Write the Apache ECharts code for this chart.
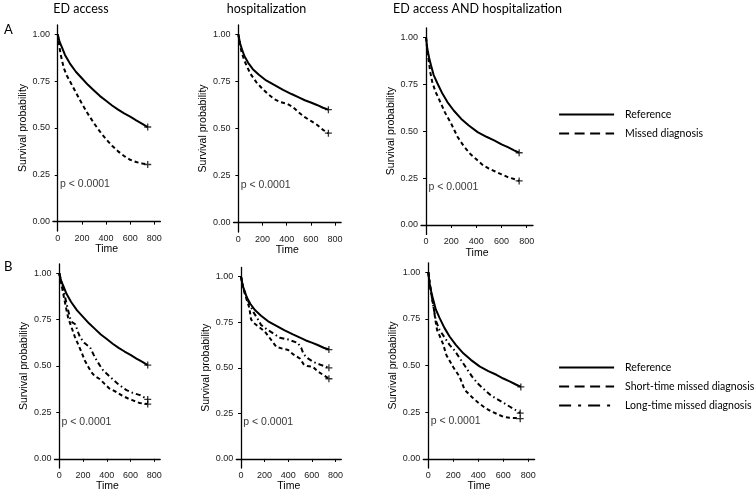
<!DOCTYPE html>
<html>
<head>
<meta charset="utf-8">
<script src="https://cdn.jsdelivr.net/npm/echarts@6/dist/echarts.min.js"></script>
<style>
  html, body { margin: 0; padding: 0; background: #fff; }
  #chart { width: 756px; height: 493px; }
</style>
</head>
<body>
<div id="chart"></div>
<script>
// survival curves, [time (days), survival probability]
const edRef = [[0,1],[15,0.96],[35,0.93],[60,0.89],[100,0.845],[150,0.80],[200,0.765],[250,0.73],[300,0.70],[350,0.67],[400,0.645],[450,0.62],[500,0.598],[550,0.578],[600,0.56],[650,0.54],[700,0.522],[745,0.505]]
const edMissed = [[0,1],[10,0.95],[25,0.89],[50,0.82],[75,0.78],[100,0.75],[150,0.69],[200,0.63],[250,0.575],[300,0.525],[350,0.48],[400,0.44],[450,0.405],[500,0.375],[550,0.35],[600,0.33],[650,0.318],[700,0.31],[745,0.305]]
const edShort = [[0,1],[15,0.95],[35,0.885],[55,0.82],[75,0.76],[105,0.705],[130,0.66],[160,0.615],[190,0.57],[215,0.53],[245,0.495],[270,0.467],[300,0.445],[340,0.43],[380,0.405],[420,0.38],[480,0.36],[530,0.34],[580,0.325],[620,0.315],[680,0.30],[745,0.295]]
const edLong = [[0,1],[20,0.95],[35,0.91],[60,0.84],[90,0.76],[110,0.735],[135,0.725],[160,0.68],[175,0.655],[210,0.625],[260,0.60],[290,0.56],[315,0.53],[345,0.50],[370,0.476],[430,0.44],[500,0.40],[566,0.37],[620,0.355],[680,0.343],[745,0.32]]

const hospRef = [[0,1],[15,0.95],[30,0.92],[50,0.885],[80,0.85],[120,0.815],[170,0.785],[230,0.755],[300,0.73],[370,0.705],[440,0.683],[500,0.665],[550,0.65],[600,0.638],[650,0.625],[700,0.61],[745,0.60]]
const hospMissed = [[0,1],[25,0.91],[50,0.86],[100,0.79],[150,0.745],[200,0.71],[250,0.68],[300,0.655],[350,0.64],[400,0.632],[450,0.615],[500,0.585],[550,0.56],[600,0.54],[650,0.52],[700,0.493],[745,0.475]]
const hospShort = [[0,1],[15,0.95],[30,0.91],[50,0.87],[70,0.83],[85,0.765],[110,0.745],[150,0.725],[200,0.70],[230,0.675],[270,0.64],[300,0.615],[350,0.605],[400,0.598],[440,0.575],[500,0.55],[530,0.52],[560,0.51],[610,0.505],[650,0.48],[700,0.46],[745,0.44]]
const hospLong = [[0,1],[15,0.95],[30,0.92],[50,0.88],[80,0.84],[110,0.80],[140,0.77],[170,0.735],[220,0.71],[270,0.69],[330,0.665],[400,0.655],[480,0.637],[510,0.61],[530,0.575],[570,0.55],[620,0.53],[680,0.515],[745,0.50]]

const bothRef = [[0,1],[10,0.94],[25,0.89],[40,0.85],[60,0.80],[90,0.755],[130,0.70],[170,0.655],[220,0.61],[280,0.565],[340,0.53],[410,0.495],[480,0.47],[545,0.45],[600,0.43],[650,0.415],[700,0.398],[740,0.385]]
const bothMissed = [[0,1],[10,0.93],[20,0.88],[35,0.81],[50,0.76],[75,0.71],[100,0.675],[150,0.60],[200,0.54],[250,0.47],[300,0.42],[350,0.38],[400,0.35],[450,0.32],[500,0.30],[550,0.285],[600,0.27],[650,0.255],[700,0.245],[740,0.235]]
const bothShort = [[0,1],[15,0.92],[30,0.86],[45,0.80],[55,0.75],[70,0.69],[90,0.66],[118,0.615],[145,0.555],[175,0.52],[200,0.49],[250,0.44],[290,0.37],[350,0.33],[400,0.30],[450,0.275],[500,0.255],[550,0.24],[600,0.225],[650,0.22],[700,0.218],[735,0.215]]
const bothLong = [[0,1],[20,0.90],[40,0.82],[60,0.74],[90,0.69],[130,0.65],[170,0.61],[210,0.58],[250,0.54],[300,0.49],[350,0.44],[400,0.40],[450,0.37],[500,0.34],[550,0.32],[600,0.30],[650,0.28],[700,0.26],[735,0.245]]

const columnTitles = ['ED access', 'hospitalization', 'ED access AND hospitalization']
const rowLetters = ['A', 'B']
const timeTicks = [0, 200, 400, 600, 800]
const survTicks = [0, 0.25, 0.5, 0.75, 1]
const pvalText = 'p < 0.0001'
const pvalAt = [15, 0.2]

const REF = 'Reference'
const MISSED = 'Missed diagnosis'
const SHORT = 'Short-time missed diagnosis'
const LONG = 'Long-time missed diagnosis'

const lineTypes = {}
lineTypes[REF] = 'solid'
lineTypes[MISSED] = [4, 3]
lineTypes[SHORT] = [4, 3]
lineTypes[LONG] = [5, 3, 1.5, 3]

// panels, row A then row B
const panels = [
  { grid: { left: 52.9, top: 24.9, width: 107.5, height: 206.1 }, curves: [[REF, edRef], [MISSED, edMissed]] },
  { grid: { left: 233.5, top: 24.9, width: 107.6, height: 207.2 }, curves: [[REF, hospRef], [MISSED, hospMissed]] },
  { grid: { left: 421, top: 27.9, width: 112, height: 206.5 }, curves: [[REF, bothRef], [MISSED, bothMissed]] },
  { grid: { left: 54.5, top: 263.9, width: 105.7, height: 206.5 }, curves: [[REF, edRef], [SHORT, edShort], [LONG, edLong]] },
  { grid: { left: 236.3, top: 267.5, width: 105, height: 202.4 }, curves: [[REF, hospRef], [SHORT, hospShort], [LONG, hospLong]] },
  { grid: { left: 423.3, top: 262.8, width: 111.3, height: 208.3 }, curves: [[REF, bothRef], [SHORT, bothShort], [LONG, bothLong]] }
]

const ink = '#000'
const axisFont = "'Liberation Sans', Arial, sans-serif"
const plusMark = 'path://M0 5L10 5M5 0L5 10'

const grids = []
const xAxes = []
const yAxes = []
const series = []

panels.forEach((p, i) => {
  grids.push(Object.assign({ containLabel: false }, p.grid))
  xAxes.push({
    type: 'value', gridIndex: i, min: -40, max: 850,
    name: 'Time', nameLocation: 'middle', nameGap: 11,
    nameTextStyle: { fontSize: 10.5, color: ink, fontFamily: axisFont, verticalAlign: 'top' },
    axisLine: { lineStyle: { color: ink, width: 1.3 } },
    axisTick: { show: true, length: 3, customValues: timeTicks, lineStyle: { color: ink } },
    axisLabel: { customValues: timeTicks, fontSize: 9, margin: 3, color: '#1a1a1a', fontFamily: axisFont },
    splitLine: { show: false }
  })
  yAxes.push({
    type: 'value', gridIndex: i, min: -0.05, max: 1.05,
    name: 'Survival probability', nameLocation: 'middle', nameGap: 21,
    nameTextStyle: { fontSize: 10.5, color: ink, fontFamily: axisFont },
    axisLine: { show: true, lineStyle: { color: ink, width: 1.3 } },
    axisTick: { show: true, length: 3, customValues: survTicks, lineStyle: { color: ink } },
    axisLabel: { customValues: survTicks, fontSize: 9, margin: 3, color: '#1a1a1a', fontFamily: axisFont,
      formatter: v => v.toFixed(2) },
    splitLine: { show: false }
  })

  p.curves.forEach(([name, pts]) => {
    series.push({
      type: 'line', name: name, xAxisIndex: i, yAxisIndex: i,
      data: pts, symbol: 'none', silent: true,
      lineStyle: { color: ink, width: 2, type: lineTypes[name] },
      itemStyle: { color: ink }
    })
  })

  // censor marks at the end of each curve
  series.push({
    type: 'scatter', name: 'censor', xAxisIndex: i, yAxisIndex: i, silent: true,
    data: p.curves.map(c => c[1][c[1].length - 1]),
    symbol: plusMark, symbolSize: 7,
    itemStyle: { color: 'transparent', borderColor: ink, borderWidth: 1.3 }
  })

  // log-rank p value
  series.push({
    type: 'scatter', name: 'pval', xAxisIndex: i, yAxisIndex: i, silent: true,
    data: [pvalAt], symbol: 'circle', symbolSize: 1,
    itemStyle: { color: 'transparent' },
    label: { show: true, position: 'right', distance: 0, formatter: pvalText,
      fontSize: 10.5, color: ink, fontFamily: axisFont }
  })
})

const legendBase = {
  orient: 'vertical', left: 553, itemWidth: 55, itemHeight: 10, itemGap: 8,
  selectedMode: false,
  textStyle: { fontFamily: 'Lato', fontSize: 10.5, color: ink, padding: [0, 0, 0, 6] },
  itemStyle: { opacity: 0 }
}
const legendItem = name => ({
  name: name,
  itemStyle: { opacity: 0 },
  lineStyle: { color: ink, width: 2.2, type: name === REF ? 'solid' : (name === LONG ? [12, 7, 3, 7] : [10, 5.5]) }
})

const titleGraphics = [81, 266.5, 477.5].map((x, k) => ({
  type: 'text', x: x, y: 9,
  style: { text: columnTitles[k], font: '12.5px Lato', fill: ink, align: 'center', verticalAlign: 'middle' }
}))
const letterGraphics = [30, 267].map((y, k) => ({
  type: 'text', x: 4, y: y,
  style: { text: rowLetters[k], font: '13px Lato', fill: ink, align: 'left', verticalAlign: 'middle' }
}))

const chart = echarts.init(document.getElementById('chart'), null, { renderer: 'canvas' })
chart.setOption({
  animation: false,
  backgroundColor: '#fff',
  textStyle: { fontFamily: axisFont },
  grid: grids,
  xAxis: xAxes,
  yAxis: yAxes,
  legend: [
    Object.assign({}, legendBase, { top: 104, data: [REF, MISSED].map(legendItem) }),
    Object.assign({}, legendBase, { top: 357, data: [REF, SHORT, LONG].map(legendItem) })
  ],
  graphic: titleGraphics.concat(letterGraphics),
  series: series
})
</script>
</body>
</html>
